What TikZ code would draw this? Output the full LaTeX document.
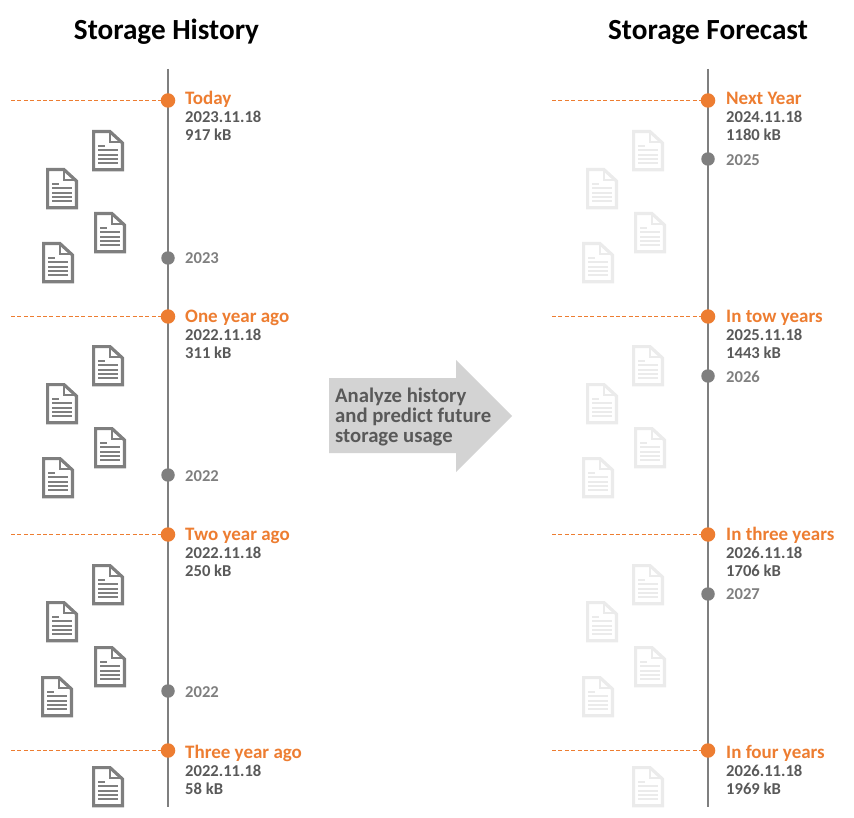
\documentclass[tikz,border=0pt]{standalone}
\usepackage{fontspec}
\setmainfont{Carlito}
\definecolor{org}{HTML}{ED7D31}
\definecolor{gry}{HTML}{7F7F7F}
\definecolor{txt}{HTML}{595959}
\definecolor{faded}{HTML}{EBEBEB}
\definecolor{arrowfill}{HTML}{D3D3D3}
\tikzset{
 docicon/.pic={
  \path[pic actions,line width=3.2pt,fill=white,line join=miter] (1.6,1.6) -- (18,1.6) -- (30.4,13) -- (30.4,39.8) -- (1.6,39.8) -- cycle;
  \path[pic actions,line width=2pt] (18,1.6) -- (18,12) -- (30.4,12);
  \path[pic actions,line width=1.9pt] (6,16) -- (13,16) (6,20) -- (26,20) (6,24.6) -- (26,24.6) (6,29) -- (26,29) (6,33.4) -- (26,33.4);
 },
 histdoc/.style={draw=gry},
 futdoc/.style={draw=faded},
 axisline/.style={draw=gry,line width=2pt},
 guide/.style={draw=org,line width=1.2pt,dash pattern=on 4pt off 2.4pt},
 bigdot/.style={circle,fill=org,minimum size=14.5pt,inner sep=0pt},
 smalldot/.style={circle,fill=gry,minimum size=13.5pt,inner sep=0pt},
 title/.style={font=\bfseries\fontsize{29.2}{32}\selectfont,text=black,anchor=base},
 headlab/.style={font=\bfseries\fontsize{19}{20}\selectfont,text=org,anchor=base west,inner sep=0pt,yshift=-1pt},
 datalab/.style={font=\bfseries\fontsize{16.6}{18}\selectfont,text=txt,anchor=base west,inner sep=0pt},
 yearlab/.style={font=\bfseries\fontsize{16.6}{18}\selectfont,text=gry,anchor=base west,inner sep=0pt,yshift=-0.5pt},
}
\begin{document}
\begin{tikzpicture}[x=1pt,y=-1pt]
\useasboundingbox (0,0) rectangle (854,818);
\node[title] (t1) at (166.5,40) {Storage History};
\node[title] (t2) at (708,40) {Storage Forecast};

% documents
\foreach \x/\y in {92/130,46/168,94/212,42/242,92/345,46/383,94/427,42/457,92/564,46/601,94/646,41/676,92/766}
  \pic[histdoc] at (\x,\y) {docicon};
\foreach \x/\y in {632/130,586/168,634/212,582/242,632/345,586/383,634/427,582/457,632/564,586/601,634/646,582/676,632/766}
  \pic[futdoc] at (\x,\y) {docicon};

% axes
\coordinate (la) at (168,69);
\coordinate (lb) at (168,807);
\coordinate (ra) at (708,69);
\coordinate (rb) at (708,807);
\draw[axisline] (la) -- (lb);
\draw[axisline] (ra) -- (rb);

% left milestones
\node[bigdot] (l1) at (168,100.5) {};
\node[bigdot] (l2) at (168,316.5) {};
\node[bigdot] (l3) at (168,534.5) {};
\node[bigdot] (l4) at (168,750.5) {};
\node[smalldot] (ly1) at (168,258) {};
\node[smalldot] (ly2) at (168,475) {};
\node[smalldot] (ly3) at (168,691) {};
\coordinate (lg1) at (11,100.5);
\coordinate (lg2) at (11,316.5);
\coordinate (lg3) at (11,534.5);
\coordinate (lg4) at (11,750.5);
\foreach \i in {1,2,3,4} \draw[guide] (lg\i) -- (l\i);

% right milestones
\node[bigdot] (r1) at (708,100.5) {};
\node[bigdot] (r2) at (708,316.5) {};
\node[bigdot] (r3) at (708,534.5) {};
\node[bigdot] (r4) at (708,750.5) {};
\node[smalldot] (ry1) at (708,159) {};
\node[smalldot] (ry2) at (708,376) {};
\node[smalldot] (ry3) at (708,594) {};
\coordinate (rg1) at (552,100.5);
\coordinate (rg2) at (552,316.5);
\coordinate (rg3) at (552,534.5);
\coordinate (rg4) at (552,750.5);
\foreach \i in {1,2,3,4} \draw[guide] (rg\i) -- (r\i);

% left labels
\node[headlab] (a1) at (185,104) {Today};
\node[datalab] (a1d) at (185,123) {2023.11.18};
\node[datalab] (a1s) at (185,141) {917 kB};
\node[yearlab] (ay1) at (185,263) {2023};
\node[headlab] (a2) at (185,322) {One year ago};
\node[datalab] (a2d) at (185,341) {2022.11.18};
\node[datalab] (a2s) at (185,359) {311 kB};
\node[yearlab] (ay2) at (185,481) {2022};
\node[headlab] (a3) at (185,539) {Two year ago};
\node[datalab] (a3d) at (185,558) {2022.11.18};
\node[datalab] (a3s) at (185,576) {250 kB};
\node[yearlab] (ay3) at (185,697) {2022};
\node[headlab] (a4) at (185,757) {Three year ago};
\node[datalab] (a4d) at (185,776) {2022.11.18};
\node[datalab] (a4s) at (185,794) {58 kB};

% right labels
\node[headlab] (b1) at (726,104) {Next Year};
\node[datalab] (b1d) at (726,123) {2024.11.18};
\node[datalab] (b1s) at (726,141) {1180 kB};
\node[yearlab] (by1) at (726,165) {2025};
\node[headlab] (b2) at (726,322) {In tow years};
\node[datalab] (b2d) at (726,341) {2025.11.18};
\node[datalab] (b2s) at (726,359) {1443 kB};
\node[yearlab] (by2) at (726,382) {2026};
\node[headlab] (b3) at (726,539) {In three years};
\node[datalab] (b3d) at (726,558) {2026.11.18};
\node[datalab] (b3s) at (726,576) {1706 kB};
\node[yearlab] (by3) at (726,599) {2027};
\node[headlab] (b4) at (726,757) {In four years};
\node[datalab] (b4d) at (726,776) {2026.11.18};
\node[datalab] (b4s) at (726,794) {1969 kB};

% central arrow
\fill[arrowfill] (329,378) -- (456,378) -- (456,360) -- (512,416) -- (456,472) -- (456,453) -- (329,453) -- cycle;
\node[font=\bfseries\fontsize{20.7}{20}\selectfont,text=txt,align=left,anchor=north west,inner sep=0pt] (lab) at (335,388) {Analyze history\\and predict future\\storage usage};
\end{tikzpicture}
\end{document}
